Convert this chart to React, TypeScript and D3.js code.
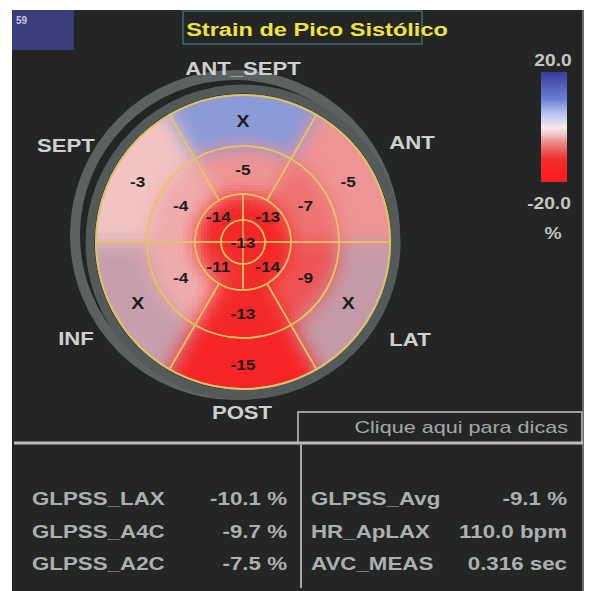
import React from "react";
import * as d3 from "d3";

// ---- data ----
const walls = ["ANT_SEPT", "ANT", "LAT", "POST", "INF", "SEPT"];
const basalValues: (number | null)[] = [null, -5, null, -15, null, -3];
const midValues: (number | null)[] = [-5, -7, -9, -13, -4, -4];
const apicalValues: number[] = [-13, -14, -11, -14]; // UR, LR, LL, UL
const apexValue = -13;
const invalidFill = ["#8c9ad8", null, "#c49aa8", null, "#c69eac", null];

const scaleMax = 20.0;
const scaleMin = -20.0;
const scaleUnit = "%";

const statsLeftLabels = ["GLPSS_LAX", "GLPSS_A4C", "GLPSS_A2C"];
const statsLeftValues = ["-10.1 %", "-9.7 %", "-7.5 %"];
const statsRightLabels = ["GLPSS_Avg", "HR_ApLAX", "AVC_MEAS"];
const statsRightValues = ["-9.1 %", "110.0 bpm", "0.316 sec"];

const title = "Strain de Pico Sistólico";
const frameNo = "59";
const hint = "Clique aqui para dicas";

// ---- layout ----
const W = 590, H = 591;
const cx = 243, cy = 242;
const R = [22, 48, 96, 147];
const SX = 1.24; // horizontal stretch of the scanner's font

const color = d3
  .scaleLinear<string>()
  .domain([-20, -12, -8, -5, -3, 0, 5, 10, 20])
  .range(["#ff1c1c", "#f22a2a", "#ee6262", "#ee9494", "#f2c4c4", "#f4e8ee", "#b6c2f0", "#6c80d4", "#3a3aa0"])
  .clamp(true);

const deg = Math.PI / 180;
const font = "'Liberation Sans', Arial, sans-serif";

function T(props: {
  x: number; y: number; anchor?: string; size: number; fill: string; bold?: boolean; sx?: number; children: any;
}) {
  const { x, y, anchor = "start", size, fill, bold = true, sx = SX, children } = props;
  return (
    <text
      transform={`translate(${x},${y}) scale(${sx},1)`}
      textAnchor={anchor as any}
      fontFamily={font}
      fontWeight={bold ? "bold" : "normal"}
      fontSize={size}
      fill={fill}
    >
      {children}
    </text>
  );
}

// colour of the segment map at a point relative to the centre
function segColorAt(dx: number, dy: number, basal: string[], mid: string[], ap: string[], apex: string) {
  const r = Math.hypot(dx, dy);
  let a = Math.atan2(dx, -dy) / deg; // 0 at 12 o'clock, clockwise
  if (a < 0) a += 360;
  if (r < R[0]) return apex;
  if (r < R[1]) return ap[Math.floor(a / 90) % 4];
  const six = Math.floor(((a + 30) % 360) / 60);
  if (r < R[2]) return mid[six];
  return basal[six];
}

function buildField() {
  const basal = basalValues.map((v, i) => (v == null ? (invalidFill[i] as string) : color(v)));
  const mid = midValues.map((v) => color(v as number));
  const ap = apicalValues.map((v) => color(v));
  const apex = color(apexValue);
  const cache = new Map<string, d3.RGBColor>();
  const rgb = (c: string) => {
    let v = cache.get(c);
    if (!v) { v = d3.rgb(c); cache.set(c, v); }
    return v;
  };
  const step = 3;
  const sigma = 10;
  const offs: [number, number, number][] = [];
  for (let ox = -18; ox <= 18; ox += 4.5)
    for (let oy = -18; oy <= 18; oy += 4.5)
      offs.push([ox, oy, Math.exp(-(ox * ox + oy * oy) / (2 * sigma * sigma))]);
  const cells: { x: number; y: number; fill: string }[] = [];
  for (let y = -R[3]; y < R[3]; y += step) {
    for (let x = -R[3]; x < R[3]; x += step) {
      const px = x + step / 2, py = y + step / 2;
      if (Math.hypot(px, py) > R[3] + step) continue;
      let sr = 0, sg = 0, sb = 0, sw = 0;
      for (const [ox, oy, w] of offs) {
        const c = rgb(segColorAt(px + ox, py + oy, basal, mid, ap, apex));
        sr += c.r * w; sg += c.g * w; sb += c.b * w; sw += w;
      }
      cells.push({ x, y, fill: d3.rgb(sr / sw, sg / sw, sb / sw).formatHex() });
    }
  }
  return { cells, step };
}

export default function App() {
  const arc = d3.arc<any>();
  const sixStart = (i: number) => (i * 60 - 30) * deg;
  const basalSegs = walls.map((w, i) => ({
    w, v: basalValues[i], a0: sixStart(i), a1: sixStart(i) + 60 * deg, r0: R[2], r1: R[3],
  }));
  const midSegs = walls.map((w, i) => ({
    w, v: midValues[i], a0: sixStart(i), a1: sixStart(i) + 60 * deg, r0: R[1], r1: R[2],
  }));
  const apSegs = apicalValues.map((v, i) => ({
    v, a0: i * 90 * deg, a1: (i + 1) * 90 * deg, r0: R[0], r1: R[1],
  }));

  const arcPath = (s: any) =>
    arc({ innerRadius: s.r0, outerRadius: s.r1, startAngle: s.a0, endAngle: s.a1 }) as string;
  const centroid = (s: any) =>
    arc.centroid({ innerRadius: s.r0, outerRadius: s.r1, startAngle: s.a0, endAngle: s.a1 });

  const field = React.useMemo(buildField, []);

  const legendY = d3.scaleLinear().domain([scaleMax, scaleMin]).range([72, 182]);
  const legendStops = d3.range(scaleMax, scaleMin - 0.01, -2.5);

  const lineCol = "#e6c65e";

  const labelPos: Record<string, [number, number]> = {
    ANT_SEPT: [243, 75],
    ANT: [412, 149],
    LAT: [410, 346],
    POST: [242, 419],
    INF: [76, 345],
    SEPT: [66, 152],
  };

  const rowY = (i: number) => 505 + i * 32.5;

  return (
    <svg width={W} height={H} style={{ position: "absolute", left: 0, top: 0, background: "#fff" }}>
      <defs>
        <clipPath id="disc">
          <circle cx={0} cy={0} r={R[3]} />
        </clipPath>
        <linearGradient id="lg" x1="0" y1="0" x2="0" y2="1">
          {legendStops.map((v, i) => (
            <stop key={i} offset={(i / (legendStops.length - 1)).toFixed(3)} stopColor={color(v)} />
          ))}
        </linearGradient>
      </defs>

      {/* panel */}
      <rect x={12} y={10} width={571} height={581} fill="#232625" />
      <line x1={583} y1={10} x2={583} y2={591} stroke="#6c6e6e" strokeWidth={2} />
      <rect x={12} y={10} width={62} height={40} fill="#3b3e7c" />
      <text x={16} y={24} fontFamily={font} fontSize={10} fontWeight="bold" fill="#c8c8d8">{frameNo}</text>

      {/* title */}
      <rect x={183} y={11} width={239} height={33} fill="none" stroke="#3c6a6a" strokeWidth={1.5} />
      <T x={317} y={36} anchor="middle" size={19} fill="#efe33e">{title}</T>

      {/* gray rings */}
      <circle cx={235} cy={235} r={160} fill="none" stroke="#5b6261" strokeWidth={10} />
      <circle cx={cx} cy={cy} r={153} fill="none" stroke="#535a59" strokeWidth={9} />

      {/* smooth colour field */}
      <g transform={`translate(${cx},${cy})`}>
        <g clipPath="url(#disc)">
          {field.cells.map((c, i) => (
            <rect key={i} x={c.x} y={c.y} width={field.step + 0.6} height={field.step + 0.6} fill={c.fill} />
          ))}
        </g>
      </g>

      {/* segment outlines */}
      <g transform={`translate(${cx},${cy})`} fill="none" stroke={lineCol} strokeWidth={1.6} strokeOpacity={0.85}>
        {[...basalSegs, ...midSegs, ...apSegs].map((s, i) => <path key={"o" + i} d={arcPath(s)} />)}
        <circle r={R[0]} />
        <line x1={-R[0]} y1={0} x2={R[0]} y2={0} />
        <line x1={0} y1={-R[0]} x2={0} y2={R[0]} />
      </g>
      <circle cx={cx} cy={cy} r={R[3]} fill="none" stroke="#d9c36a" strokeWidth={2} />

      {/* values */}
      <g>
        {basalSegs.map((s, i) => {
          const [x, y] = centroid(s);
          return (
            <T key={"bt" + i} x={cx + x} y={cy + y + 6} anchor="middle" size={s.v == null ? 17 : 15} fill="#1c1c1c" sx={1.15}>
              {s.v == null ? "X" : s.v}
            </T>
          );
        })}
        {midSegs.map((s, i) => {
          const [x, y] = centroid(s);
          return <T key={"mt" + i} x={cx + x} y={cy + y + 5} anchor="middle" size={15} fill="#1c1c1c" sx={1.15}>{s.v}</T>;
        })}
        {apSegs.map((s, i) => {
          const [x, y] = centroid(s);
          return <T key={"at" + i} x={cx + x} y={cy + y + 5} anchor="middle" size={15} fill="#1c1c1c" sx={1.15}>{s.v}</T>;
        })}
        <T x={cx} y={cy + 6} anchor="middle" size={15} fill="#1c1c1c" sx={1.15}>{apexValue}</T>
      </g>

      {/* wall labels */}
      {walls.map((w) => (
        <T key={w} x={labelPos[w][0]} y={labelPos[w][1]} anchor="middle" size={18} fill="#cfd0d0" sx={1.23}>{w}</T>
      ))}

      {/* colour legend */}
      <rect x={541} y={legendY(scaleMax)} width={26} height={legendY(scaleMin) - legendY(scaleMax)} fill="url(#lg)" />
      <T x={553} y={66} anchor="middle" size={16} fill="#c4c6c0" sx={1.2}>{scaleMax.toFixed(1)}</T>
      <T x={549} y={209} anchor="middle" size={16} fill="#c4c6c0" sx={1.2}>{scaleMin.toFixed(1)}</T>
      <T x={553} y={239} anchor="middle" size={16} fill="#c4c6c0" sx={1.2}>{scaleUnit}</T>

      {/* hint box */}
      <rect x={298} y={412} width={284} height={31} fill="none" stroke="#9c9e9e" strokeWidth={2} />
      <T x={568} y={433} anchor="end" size={17} fill="#a6a8a8" bold={false} sx={1.27}>{hint}</T>

      {/* separators */}
      <line x1={14} y1={443} x2={583} y2={443} stroke="#bcbebe" strokeWidth={3} />
      <line x1={301} y1={443} x2={301} y2={588} stroke="#a8aaaa" strokeWidth={2} />

      {/* stats */}
      {statsLeftLabels.map((t, i) => (
        <T key={"ll" + i} x={32} y={rowY(i)} size={18} fill="#adb0b0">{t}</T>
      ))}
      {statsLeftValues.map((t, i) => (
        <T key={"lv" + i} x={287} y={rowY(i)} anchor="end" size={18} fill="#adb0b0">{t}</T>
      ))}
      {statsRightLabels.map((t, i) => (
        <T key={"rl" + i} x={311} y={rowY(i)} size={18} fill="#adb0b0">{t}</T>
      ))}
      {statsRightValues.map((t, i) => (
        <T key={"rv" + i} x={567} y={rowY(i)} anchor="end" size={18} fill="#adb0b0">{t}</T>
      ))}
    </svg>
  );
}
